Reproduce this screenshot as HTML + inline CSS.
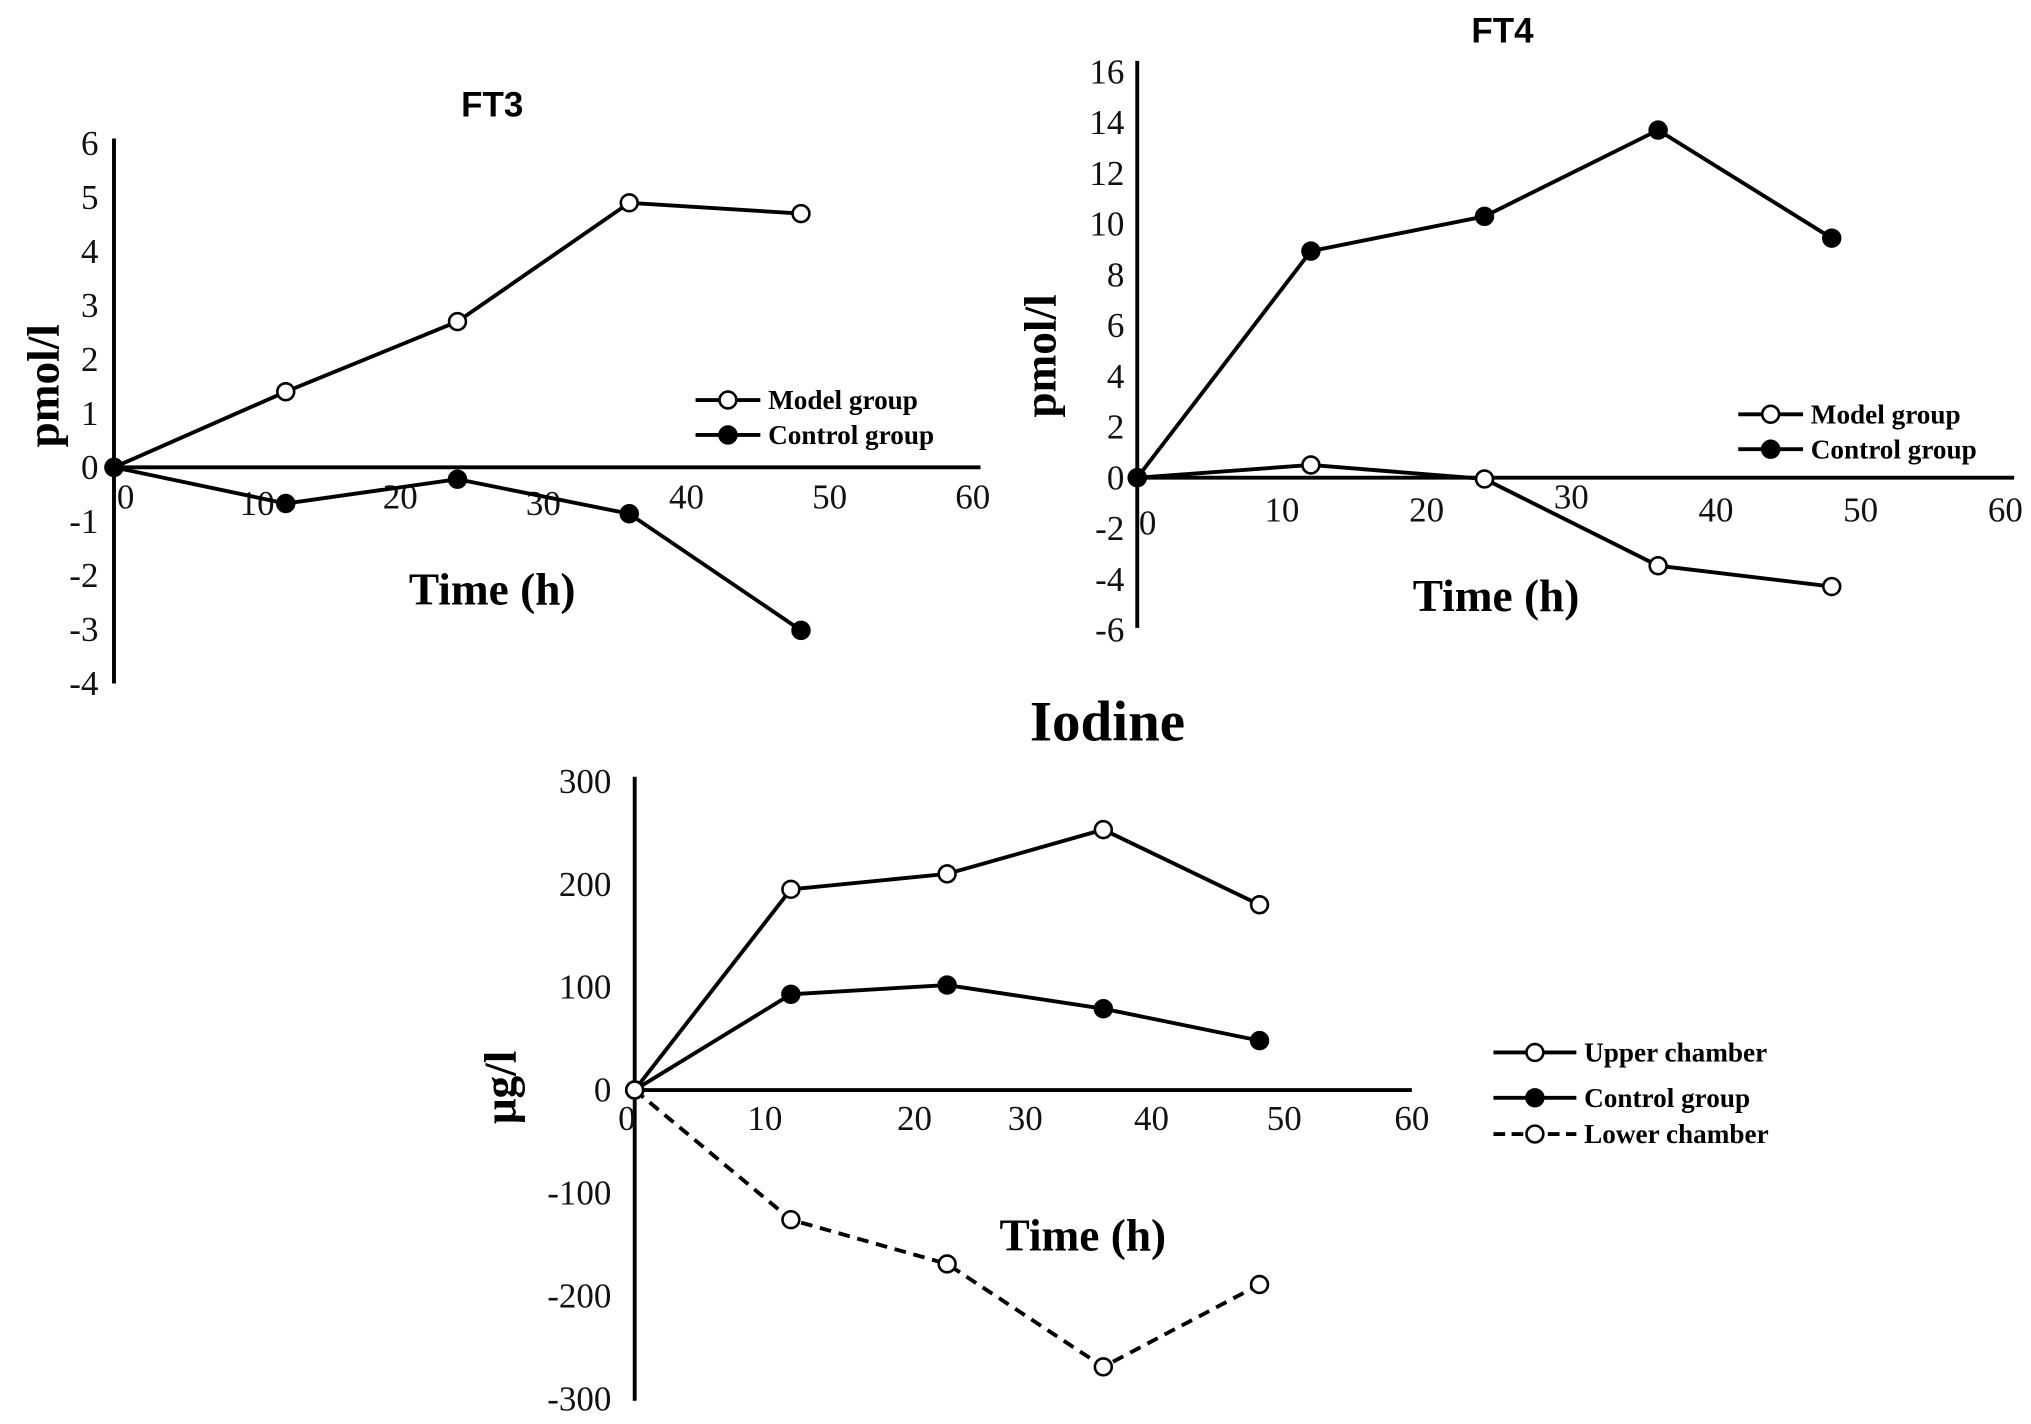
<!DOCTYPE html>
<html><head><meta charset="utf-8"><style>
html,body{margin:0;padding:0;background:#fff;}
svg{display:block;}
.tick{font-family:"Liberation Serif",serif;font-size:27px;fill:#111;}
.ax{font-family:"Liberation Serif",serif;font-weight:bold;font-size:35px;fill:#000;}
.lg{font-family:"Liberation Serif",serif;font-weight:bold;font-size:21px;fill:#000;}
.tt{font-family:"Liberation Sans",sans-serif;font-weight:bold;font-size:27px;fill:#000;}
</style></head><body>
<svg id="fig" width="2031" height="1424" viewBox="0 0 1568 1100" preserveAspectRatio="none" xmlns="http://www.w3.org/2000/svg"></svg>
<script>
const timePoints = [0, 12, 24, 36, 48];
const ft3Model = [0, 1.4, 2.7, 4.9, 4.7];
const ft3Control = [0, -0.67, -0.22, -0.86, -3.02];
const ft4Model = [0, 0.5, -0.05, -3.47, -4.29];
const ft4Control = [0, 8.93, 10.3, 13.7, 9.44];
const iodUpper = [0, 195, 210, 253, 180];
const iodControl = [0, 93, 102, 79, 48];
const iodLower = [0, -126, -169, -269, -189];
const xTicks = [0, 10, 20, 30, 40, 50, 60];
const ft3YTicks = [6, 5, 4, 3, 2, 1, 0, -1, -2, -3, -4];
const ft4YTicks = [16, 14, 12, 10, 8, 6, 4, 2, 0, -2, -4, -6];
const iodYTicks = [300, 200, 100, 0, -100, -200, -300];

const NS = "http://www.w3.org/2000/svg";
const svg = document.getElementById("fig");
function mk(tag, attrs, parent, text){
  const e = document.createElementNS(NS, tag);
  for (const k in attrs) e.setAttribute(k, attrs[k]);
  if (text !== undefined) e.textContent = text;
  (parent || svg).appendChild(e);
  return e;
}

function panel(cfg){
  const g = mk("g", {});
  
  
  const xs = v => cfg.x0 + v * cfg.pxPerX;
  const ys = v => cfg.y0 - v * cfg.pxPerY;
  const yAx = mk("line", {x1:cfg.x0, x2:cfg.x0, y1:cfg.yTop, y2:cfg.yBot, stroke:"#000", "stroke-width":3}, g);
  
  
  const xAx = mk("line", {x1:cfg.x0, x2:cfg.xEnd, y1:cfg.y0, y2:cfg.y0, stroke:"#000", "stroke-width":3}, g);
  
  
  cfg.yTicks.forEach(t => {
    const e = mk("text", {x:cfg.x0 - cfg.yLabOff, y:ys(t) + 9, "text-anchor":"end", class:"tick"}, g, String(t));
    
    
  });
  xTicks.forEach((t, i) => {
    const e = mk("text", {x:xs(t) + (cfg.xLabDx[i]||0), y:cfg.xLabY[i], "text-anchor":"middle", class:"tick"}, g, String(t));
    
    
  });
  cfg.series.forEach(s => {
    const pts = s.vals.map((v, i) => xs(timePoints[i]) + "," + ys(v)).join(" ");
    const l = mk("polyline", {points:pts, fill:"none", stroke:"#000", "stroke-width":3, "stroke-dasharray": s.dash ? "9,6" : "none"}, g);
    
    
    s.vals.forEach((v, i) => {
      const c = mk("circle", {cx:xs(timePoints[i]), cy:ys(v), r:6.5, fill: s.filled ? "#000" : "#fff", stroke:"#000", "stroke-width":2}, g);
      
      
    });
  });
  const tt = mk("text", {x:cfg.title[0], y:cfg.title[1], "text-anchor":"middle", class:cfg.titleClass, style:cfg.titleStyle||""}, g, cfg.titleText);
  
  
  const xl = mk("text", {x:cfg.xLab[0], y:cfg.xLab[1], "text-anchor":"middle", class:"ax"}, g, "Time (h)");
  
  
  const yl = mk("text", {x:0, y:0, "text-anchor":"middle", class:"ax", transform:"translate(" + cfg.yLab[0] + "," + cfg.yLab[1] + ") rotate(-90)"}, g, cfg.yLabText);
  
  
  cfg.legend.items.forEach((it, i) => {
    const y = cfg.legend.y[i];
    const lg = mk("g", {}, g);
    
    
    mk("line", {x1:cfg.legend.x1, x2:cfg.legend.x2, y1:y, y2:y, stroke:"#000", "stroke-width":3, "stroke-dasharray": it.dash ? "9,5" : "none"}, lg);
    mk("circle", {cx:(cfg.legend.x1 + cfg.legend.x2)/2, cy:y, r:6.5, fill: it.filled ? "#000" : "#fff", stroke:"#000", "stroke-width":2}, lg);
    mk("text", {x:cfg.legend.x2 + 6, y:y + 7, class:"lg"}, lg, it.label);
  });
}

panel({name:"ft3", x0:88, y0:361, pxPerX:11.05, pxPerY:41.7, yTop:107, yBot:528, xEnd:757,
  yTicks:ft3YTicks, yLabOff:12, xLabY:[393,398,393,398,393,393,393], xLabDx:[9,0,0,0,0,0,0],
  series:[{name:"ft3-model", vals:ft3Model, filled:false},{name:"ft3-control", vals:ft3Control, filled:true}],
  title:[380,90], titleText:"FT3", titleClass:"tt", xLab:[380,467], yLab:[45,298], yLabText:"pmol/l",
  legend:{x1:537, x2:587, y:[309,336], items:[{label:"Model group", filled:false},{label:"Control group", filled:true}]}});

panel({name:"ft4", x0:878, y0:369, pxPerX:11.17, pxPerY:19.6, yTop:47, yBot:485, xEnd:1555,
  yTicks:ft4YTicks, yLabOff:10, xLabY:[413,403,403,393,403,403,403], xLabDx:[8,0,0,0,0,0,0],
  series:[{name:"ft4-model", vals:ft4Model, filled:false},{name:"ft4-control", vals:ft4Control, filled:true}],
  title:[1160,33], titleText:"FT4", titleClass:"tt", xLab:[1155,472], yLab:[815,275], yLabText:"pmol/l",
  legend:{x1:1342, x2:1392, y:[320,347], items:[{label:"Model group", filled:false},{label:"Control group", filled:true}]}});

panel({name:"iodine", x0:490, y0:842, pxPerX:10.05, pxPerY:0.795, yTop:600, yBot:1082, xEnd:1090,
  yTicks:iodYTicks, yLabOff:18, xLabY:[873,873,873,873,873,873,873], xLabDx:[-6,0,15,0,-3,-1,-3],
  series:[{name:"iodine-upper", vals:iodUpper, filled:false},{name:"iodine-control", vals:iodControl, filled:true},{name:"iodine-lower", vals:iodLower, filled:false, dash:true}],
  title:[855,572], titleText:"Iodine", titleClass:"ax", titleStyle:"font-size:44px", xLab:[836,966], yLab:[398,840], yLabText:"μg/l",
  legend:{x1:1153, x2:1217, y:[813,848,876], items:[{label:"Upper chamber", filled:false},{label:"Control group", filled:true},{label:"Lower chamber", filled:false, dash:true}]}});
</script>
</body></html>
